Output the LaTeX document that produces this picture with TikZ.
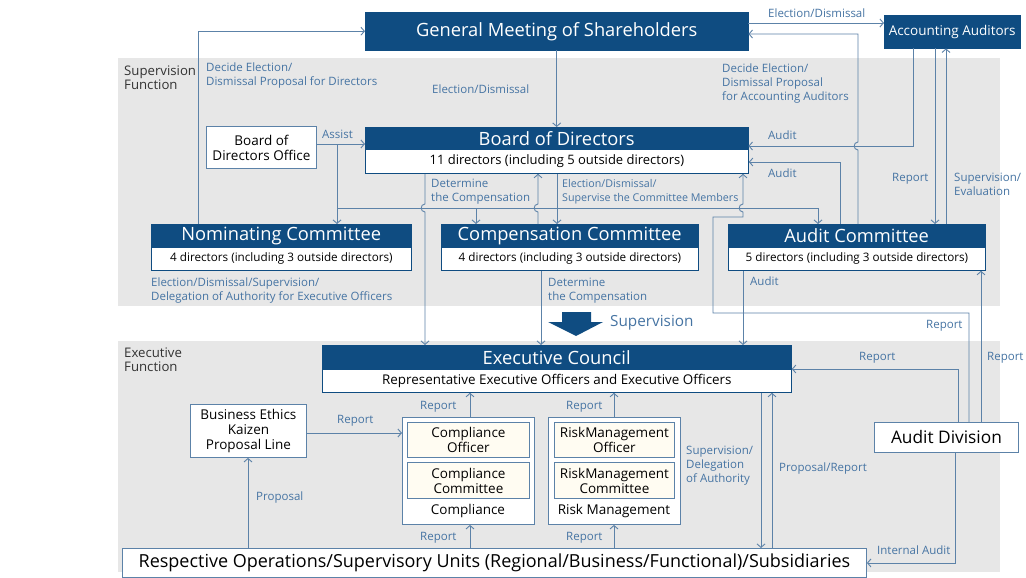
\documentclass[tikz,border=0pt]{standalone}
\usepackage{fontspec}
\setmainfont{Open Sans}
\usetikzlibrary{arrows.meta}
\definecolor{navy}{HTML}{0F4C81}
\definecolor{wire}{HTML}{5C82A8}
\definecolor{lbl}{HTML}{4674A3}
\definecolor{panel}{HTML}{E7E7E7}
\definecolor{cream}{HTML}{FFFCF2}
\newcommand\fsTitle{\fontsize{18.3}{20}\selectfont}
\newcommand\fsSub{\fontsize{11.7}{13}\selectfont}
\newcommand\fsLab{\fontsize{11.5}{14}\selectfont}
\newcommand\fsBox{\fontsize{13.5}{15}\selectfont}
\begin{document}
\begin{tikzpicture}[x=1pt,y=-1pt,
  sz/.style 2 args={minimum width=#1, minimum height=#2},
  hdr/.style={draw=navy, fill=navy, text=white, inner sep=0pt, anchor=north west, font=\fsTitle},
  row/.style={draw=navy, fill=white, text=black, inner sep=0pt, anchor=north west, line width=0.8pt, font=\fsSub},
  plain/.style={draw=wire, fill=white, line width=0.9pt, inner sep=0pt, anchor=north west, align=center, font=\fsBox},
  inbox/.style={draw=wire, fill=cream, line width=0.9pt, inner sep=0pt, anchor=north west, align=center, font=\fsBox},
  wire/.style={draw=wire, line width=0.9pt},
  arr/.style={wire, -{Straight Barb[length=3.5pt,width=8pt]}},
  lab/.style={text=lbl, font=\fsLab, align=left, inner sep=0pt, anchor=north west},
  side/.style={text=black!80, font=\fontsize{13.2}{14}\selectfont, align=left, inner sep=0pt, anchor=north west},
]
\useasboundingbox (0,0) rectangle (1026,578);
\fill[white] (0,0) rectangle (1026,578);

% function panels
\fill[panel] (118,58) rectangle (1000,306);
\fill[panel] (118,341) rectangle (1000,572);
\node[side] (supf) at (124,66) {Supervision\\Function};
\node[side] (exef) at (124,348) {Executive\\Function};

% supervision side
\node[hdr, sz={383}{38}] (gms) at (365,12) {General Meeting of Shareholders};
\node[hdr, sz={136}{33}, font=\fsBox] (aa) at (884,15) {Accounting Auditors};
\node[hdr, sz={383}{22}] (bod) at (365,127) {Board of Directors};
\node[row, sz={383}{24}, font=\fontsize{13}{15}\selectfont] (bodr) at (365,149) {11 directors (including 5 outside directors)};
\node[plain, sz={110}{42}] (office) at (206,126) {Board of\\Directors Office};
\node[hdr, sz={260}{23}] (nom) at (151,224) {Nominating Committee};
\node[row, sz={260}{23}] (nomr) at (151,247) {4 directors (including 3 outside directors)};
\node[hdr, sz={257}{23}] (comp) at (441,224) {Compensation Committee};
\node[row, sz={257}{23}] (compr) at (441,247) {4 directors (including 3 outside directors)};
\node[hdr, sz={257}{23}] (ac) at (728,224) {Audit Committee};
\node[row, sz={257}{23}] (acr) at (728,247) {5 directors (including 3 outside directors)};

% executive side
\node[hdr, sz={469}{24}] (ec) at (322,345) {Executive Council};
\node[row, sz={469}{23}, font=\fontsize{13.4}{15}\selectfont] (ecr) at (322,369) {Representative Executive Officers and Executive Officers};
\node[plain, sz={116}{53}] (ethics) at (190,404) {Business Ethics\\Kaizen\\Proposal Line};
\node[plain, sz={132}{107}] (cpl) at (402,417) {};
\node[inbox, sz={122}{35}] (cplo) at (407,422) {Compliance\\Officer};
\node[inbox, sz={122}{36}] (cplc) at (407,462) {Compliance\\Committee};
\node[font=\fsBox, inner sep=0pt] (cplt) at (468,511) {Compliance};
\node[plain, sz={132}{107}] (risk) at (548,417) {};
\node[inbox, sz={120}{35}] (risko) at (554,422) {RiskManagement\\Officer};
\node[inbox, sz={120}{36}] (riskc) at (554,462) {RiskManagement\\Committee};
\node[font=\fsBox, inner sep=0pt] (riskt) at (614,511) {Risk Management};
\node[plain, sz={144}{30}, font=\fontsize{17.3}{19}\selectfont] (audiv) at (874,422) {Audit Division};
\node[plain, sz={744}{29}, font=\fontsize{18}{20}\selectfont] (ops) at (122,548) {Respective Operations/Supervisory Units (Regional/Business/Functional)/Subsidiaries};

% supervision arrow between the two functions
\fill[navy] (562,312) -- (591,312) -- (591,322) -- (603,322) -- (576,336) -- (548,322) -- (562,322) -- cycle;
\node[lab, font=\fontsize{15.3}{17}\selectfont] (supl) at (610,315) {Supervision};

% junctions
\coordinate (asj) at (337,144);

% connectors: supervision side
\draw[arr] (198,0 |- nom.north) -- (198,0 |- gms.west) -- (gms.west);
\draw[arr] (gms.south) -- (bod.north);
\draw[arr] (gms.east |- 0,23) -- (aa.west |- 0,23);
\draw[arr] (858,0 |- ac.north) -- (858,150) .. controls (853,150) and (853,142) .. (858,142) -- (858,34) -- (gms.east |- 0,34);
\draw[arr] (913,0 |- aa.south) -- (913,146) -- (bod.east |- 0,146);
\draw[arr] (840,0 |- ac.north) -- (840,162) -- (bodr.east |- 0,162);
\draw[arr] (935,0 |- aa.south) -- (935,0 |- ac.north);
\draw[arr] (946,0 |- ac.north) -- (946,0 |- aa.south);
\draw[arr] (office.east |- asj) -- (bod.west |- asj);
\draw[arr] (asj) -- (asj |- nom.north);
\draw[wire] (asj |- 0,208) -- (818,208);
\draw[arr] (476,208) -- (476,0 |- comp.north);
\draw[arr] (818,208) -- (818,0 |- ac.north);
\draw[arr] (557,0 |- bodr.south) -- (557,0 |- comp.north);
\draw[arr] (538,0 |- comp.north) -- (538,212) .. controls (533,212) and (533,204) .. (538,204) -- (538,0 |- bodr.south);
\draw[arr] (969,0 |- audiv.north) -- (969,313) -- (713,313) -- (713,217) -- (743,217) -- (743,212) .. controls (738,212) and (738,204) .. (743,204) -- (743,0 |- bodr.south);
\draw[arr] (425,0 |- bodr.south) -- (425,204) .. controls (420,204) and (420,212) .. (425,212) -- (425,0 |- ec.north);
\draw[arr] (541,0 |- compr.south) -- (541,0 |- ec.north);
\draw[arr] (743,0 |- acr.south) -- (743,0 |- ec.north);

% connectors: executive side
\draw[arr] (958,0 |- audiv.north) -- (958,0 |- ecr.north east) -- (ecr.north east);
\draw[arr] (981,0 |- audiv.north) -- (981,0 |- acr.south);
\draw[arr] (955,0 |- audiv.south) -- (955,0 |- ops.east) -- (ops.east);
\draw[arr] (761,0 |- ecr.south) -- (761,0 |- ops.north);
\draw[arr] (772,0 |- ops.north) -- (772,0 |- ecr.south);
\draw[arr] (470,0 |- cpl.north) -- (470,0 |- ecr.south);
\draw[arr] (614,0 |- risk.north) -- (614,0 |- ecr.south);
\draw[arr] (470,0 |- ops.north) -- (470,0 |- cpl.south);
\draw[arr] (614,0 |- ops.north) -- (614,0 |- risk.south);
\draw[arr] (248,0 |- ops.north) -- (248,0 |- ethics.south);
\draw[arr] (ethics.east |- 0,433) -- (cpl.west |- 0,433);

% connector labels
\node[lab] (l1) at (206,63) {Decide Election/\\Dismissal Proposal for Directors};
\node[lab] (l2) at (432,85) {Election/Dismissal};
\node[lab] (l3) at (768,9) {Election/Dismissal};
\node[lab] (l4) at (722,64) {Decide Election/\\Dismissal Proposal\\for Accounting Auditors};
\node[lab] (l5) at (768,131) {Audit};
\node[lab] (l6) at (768,169) {Audit};
\node[lab] (l7) at (892,173) {Report};
\node[lab] (l8) at (954,173) {Supervision/\\Evaluation};
\node[lab] (l9) at (322,130) {Assist};
\node[lab] (l10) at (431,179) {Determine\\the Compensation};
\node[lab, font=\fontsize{10.7}{14}\selectfont] (l11) at (562,179) {Election/Dismissal/\\Supervise the Committee Members};
\node[lab] (l12) at (151,278) {Election/Dismissal/Supervision/\\Delegation of Authority for Executive Officers};
\node[lab] (l13) at (548,278) {Determine\\the Compensation};
\node[lab] (l14) at (750,277) {Audit};
\node[lab] (l15) at (926,320) {Report};
\node[lab] (l16) at (859,352) {Report};
\node[lab] (l17) at (987,352) {Report};
\node[lab] (l18) at (420,401) {Report};
\node[lab] (l19) at (566,401) {Report};
\node[lab] (l20) at (420,532) {Report};
\node[lab] (l21) at (566,532) {Report};
\node[lab] (l22) at (337,415) {Report};
\node[lab] (l23) at (256,492) {Proposal};
\node[lab] (l24) at (686,446) {Supervision/\\Delegation\\of Authority};
\node[lab] (l25) at (779,463) {Proposal/Report};
\node[lab] (l26) at (877,546) {Internal Audit};
\end{tikzpicture}
\end{document}
